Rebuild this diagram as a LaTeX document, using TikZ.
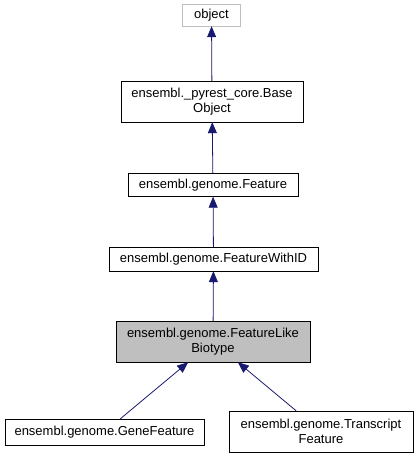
\documentclass[tikz,border=0pt]{standalone}
\usepackage{fontspec}
\setmainfont{Liberation Sans}
\usetikzlibrary{arrows.meta}
\usetikzlibrary{positioning}
\definecolor{edgeblue}{RGB}{25,25,112}

\tikzset{
  cls/.style={draw=black,fill=white,rectangle,align=center,inner sep=0pt,font=\fontsize{13pt}{15pt}\selectfont},
  clsext/.style={cls,draw=black!25},
  clscur/.style={cls,fill=black!25},
  inh/.style={draw=edgeblue,thick,-{Triangle[length=11pt,width=9pt]}}
}

\begin{document}
\begin{tikzpicture}[x=1pt,y=-1pt]
\useasboundingbox (0,0) rectangle (417,459);
\node[clsext,minimum width=58pt,minimum height=22pt] (obj) at (211.5,15) {object};
\node[cls,minimum width=182pt,minimum height=41pt] (base) at (212,101.5) {ensembl.\_pyrest\_core.Base\\Object};
\node[cls,minimum width=170pt,minimum height=23pt] (feat) at (213,185) {ensembl.genome.Feature};
\node[cls,minimum width=209pt,minimum height=24pt] (featid) at (213.5,259) {ensembl.genome.FeatureWithID};
\node[clscur,minimum width=194pt,minimum height=41pt] (flb) at (213,341.5) {ensembl.genome.FeatureLike\\Biotype};
\node[cls,minimum width=199pt,minimum height=26pt] (gene) at (104.5,432) {ensembl.genome.GeneFeature};
\node[cls,minimum width=184pt,minimum height=41pt] (trans) at (321,431.5) {ensembl.genome.Transcript\\Feature};

\draw[inh] (base) -- (obj);
\draw[inh] (feat) -- (base);
\draw[inh] (featid) -- (feat);
\draw[inh] (flb) -- (featid);
\draw[inh] (gene) -- (flb);
\draw[inh] (trans) -- (flb);

\end{tikzpicture}
\end{document}
